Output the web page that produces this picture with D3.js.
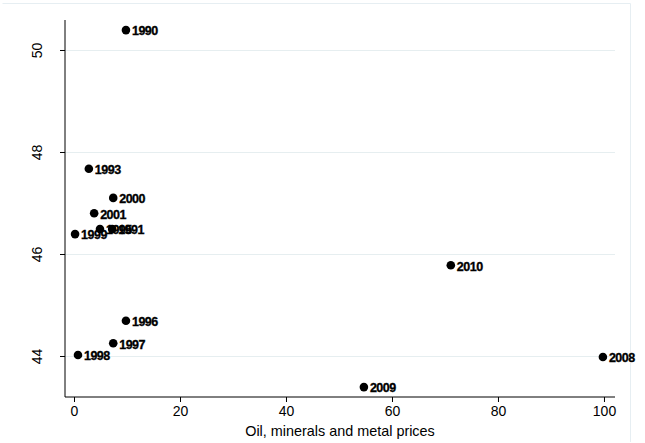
<!DOCTYPE html>
<html>
<head>
<meta charset="utf-8">
<script src="https://cdn.jsdelivr.net/npm/d3@7"></script>
<style>
  html, body { margin: 0; padding: 0; background: #fff; }
  svg { display: block; font-family: "Liberation Sans", Arial, sans-serif; }
</style>
</head>
<body>
<svg id="chart" width="645" height="443"></svg>
<script>
// Yearly observations: price index (x) against the outcome (y)
const years  = ["1990", "1993", "2000", "2001", "1999", "1995", "1991", "1996", "1997", "1998", "2008", "2009", "2010"];
const xVals  = [9.8, 2.8, 7.4, 3.8, 0.2, 4.9, 7.2, 9.8, 7.4, 0.75, 99.8, 54.7, 71.1];
const yVals  = [50.39, 47.67, 47.10, 46.80, 46.39, 46.49, 46.49, 44.69, 44.25, 44.02, 43.98, 43.39, 45.78];
const xTicks = [0, 20, 40, 60, 80, 100];
const yTicks = [44, 46, 48, 50];
const xTitle = "Oil, minerals and metal prices";

const svg = d3.select("#chart");

// outer graph-region frame (light)
svg.append("path")
  .attr("d", "M2.5,3.5 H630.5 V442")
  .attr("fill", "none")
  .attr("stroke", "#e6eef2")
  .attr("stroke-width", 1);

const plot = { left: 65, right: 615, top: 20, bottom: 397 };

const x = d3.scaleLinear().domain([-1.7, 102.08]).range([plot.left, plot.right]);
const y = d3.scaleLinear().domain([43.196, 50.588]).range([plot.bottom, plot.top]);

// horizontal gridlines
svg.append("g")
  .selectAll("line")
  .data(yTicks)
  .join("line")
  .attr("x1", plot.left).attr("x2", plot.right)
  .attr("y1", d => Math.round(y(d)) + 0.5)
  .attr("y2", d => Math.round(y(d)) + 0.5)
  .attr("stroke", "#e6eef0")
  .attr("stroke-width", 1.2);

// y axis
const yAxis = svg.append("g")
  .attr("transform", `translate(${plot.left},0)`)
  .call(d3.axisLeft(y).tickValues(yTicks).tickSize(5).tickFormat(d3.format("d")));
yAxis.select(".domain").attr("stroke", "#000").attr("d", `M0,${plot.top}V${plot.bottom}`);
yAxis.selectAll(".tick line").attr("stroke", "#000");
yAxis.selectAll(".tick text")
  .attr("font-size", 14)
  .attr("fill", "#000")
  .attr("transform", "rotate(-90)")
  .attr("x", 0)
  .attr("y", -23)
  .attr("dy", "0")
  .attr("text-anchor", "middle");

// x axis
const xAxis = svg.append("g")
  .attr("transform", `translate(0,${plot.bottom})`)
  .call(d3.axisBottom(x).tickValues(xTicks).tickSize(5).tickPadding(4).tickFormat(d3.format("d")));
xAxis.select(".domain").attr("stroke", "#000").attr("d", `M${plot.left},0H${plot.right}`);
xAxis.selectAll(".tick line").attr("stroke", "#000");
xAxis.selectAll(".tick text").attr("font-size", 14).attr("fill", "#000");

svg.append("text")
  .attr("x", (plot.left + plot.right) / 2)
  .attr("y", 436)
  .attr("text-anchor", "middle")
  .attr("font-size", 14.4)
  .attr("fill", "#000")
  .text(xTitle);

// markers and year labels
const pts = years.map((yr, i) => ({ yr, xv: xVals[i], yv: yVals[i] }));

svg.append("g")
  .selectAll("circle")
  .data(pts)
  .join("circle")
  .attr("cx", d => x(d.xv))
  .attr("cy", d => y(d.yv))
  .attr("r", 4.3)
  .attr("fill", "#000");

svg.append("g")
  .selectAll("text")
  .data(pts)
  .join("text")
  .attr("x", d => x(d.xv) + 6)
  .attr("y", d => y(d.yv) + 1)
  .attr("dy", "0.35em")
  .attr("font-size", 12.5)
  .attr("font-weight", "bold")
  .attr("letter-spacing", -0.5)
  .attr("fill", "#000")
  .attr("stroke", "#000")
  .attr("stroke-width", 0.35)
  .text(d => d.yr);
</script>
</body>
</html>
